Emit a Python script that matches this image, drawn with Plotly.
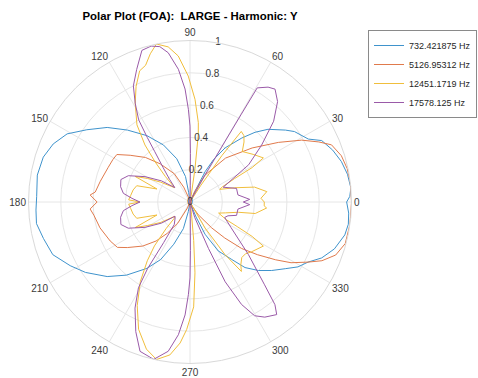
import plotly.graph_objects as go

# ---------------- data ----------------
series_names = ["732.421875 Hz", "5126.95312 Hz", "12451.1719 Hz", "17578.125 Hz"]
series_colors = ["#3f93cc", "#e07a4c", "#f0be3c", "#9a5aa8"]

theta_732 = [0, 2, 5, 10, 15, 20, 25, 28, 34, 37,
             43, 47, 51, 57, 61, 63.5, 65, 68, 80, 95,
             98, 100, 107, 115, 123, 131, 138, 145, 151, 157,
             163, 170, 178, 183, 188, 194, 201, 208, 214, 222,
             229, 237, 243, 249, 256, 260, 263, 275, 289, 292,
             295, 300, 306, 310, 315, 320, 325, 329, 333, 337,
             342, 348, 352, 356, 360]
r_732 = [0.97, 0.99, 1.0, 0.99, 0.97, 0.94, 0.90, 0.83, 0.78, 0.74,
         0.66, 0.59, 0.51, 0.40, 0.30, 0.21, 0.08, 0.01, 0.0, 0.0,
         0.06, 0.16, 0.28, 0.39, 0.49, 0.59, 0.69, 0.78, 0.87, 0.92,
         0.95, 0.96, 0.95, 0.955, 0.96, 0.935, 0.91, 0.84, 0.78, 0.69,
         0.60, 0.49, 0.40, 0.28, 0.17, 0.06, 0.01, 0.0, 0.02, 0.10,
         0.22, 0.35, 0.44, 0.53, 0.60, 0.66, 0.72, 0.78, 0.82, 0.886,
         0.94, 0.98, 0.99, 0.985, 0.97]

theta_5127 = [0, 7, 12, 17, 22, 25, 29, 34, 41, 51,
              61, 66, 70, 100, 108, 113, 119, 128, 135, 142,
              147, 151, 157, 167, 174, 176, 180, 184, 188, 196,
              206, 212, 216, 223, 229, 234, 240, 247, 252, 290,
              297, 303, 310, 314, 318, 322, 326, 329, 333, 336,
              340, 345, 352, 360]
r_5127 = [1.0, 1.0, 0.995, 0.98, 0.945, 0.88, 0.79, 0.66, 0.51, 0.35,
          0.19, 0.07, 0.0, 0.0, 0.03, 0.10, 0.20, 0.30, 0.39, 0.47,
          0.54, 0.545, 0.55, 0.57, 0.59, 0.62, 0.575, 0.62, 0.60, 0.58,
          0.55, 0.53, 0.48, 0.40, 0.32, 0.24, 0.15, 0.04, 0.0, 0.0,
          0.03, 0.094, 0.21, 0.31, 0.43, 0.53, 0.64, 0.73, 0.82, 0.894,
          0.96, 0.995, 1.0, 1.0]

theta_12451 = [0, 3, 7.7, 13, 17.7, 23, 25, 27.7, 29, 31,
               37, 44, 48, 51, 54, 55.5, 57, 60, 78, 80,
               81.5, 83, 84, 87.2, 90.8, 94.6, 98, 102, 105, 108,
               111, 115, 119, 124.5, 128.3, 131, 134, 137, 140, 146,
               151, 155, 158.5, 163, 168, 174, 178, 180, 182, 186,
               192, 197, 201.5, 205, 209, 215, 223, 226, 228, 231,
               234, 238, 243, 248, 253.5, 258, 262.5, 266, 268.5, 272,
               274, 275.5, 277, 280, 298, 300, 303.6, 306.5, 309, 313,
               317, 321, 329, 331, 332.5, 334, 338.8, 343, 348, 350,
               355.5, 357, 360]
r_12451 = [0.46, 0.44, 0.48, 0.41, 0.29, 0.20, 0.22, 0.31, 0.44, 0.53,
           0.49, 0.45, 0.50, 0.53, 0.54, 0.35, 0.12, 0.0, 0.0, 0.05,
           0.21, 0.42, 0.494, 0.636, 0.78, 0.907, 0.97, 1.0, 0.95, 0.89,
           0.87, 0.79, 0.70, 0.58, 0.45, 0.33, 0.22, 0.13, 0.15, 0.22,
           0.30, 0.375, 0.22, 0.345, 0.36, 0.37, 0.38, 0.31, 0.38, 0.37,
           0.36, 0.345, 0.22, 0.375, 0.30, 0.22, 0.13, 0.14, 0.22, 0.35,
           0.45, 0.58, 0.72, 0.85, 0.95, 0.997, 0.955, 0.875, 0.79, 0.65,
           0.44, 0.24, 0.08, 0.0, 0.0, 0.186, 0.39, 0.535, 0.50, 0.47,
           0.47, 0.49, 0.53, 0.44, 0.33, 0.25, 0.19, 0.23, 0.306, 0.41,
           0.476, 0.46, 0.46]

theta_17578 = [0, 2.5, 8.4, 16.3, 24, 32.4, 38.5, 44, 48.9, 53,
               55.8, 59.5, 59.7, 60, 61, 62.5, 66, 88, 89, 89.5,
               90, 91, 92.5, 95, 98.3, 101, 104, 107.6, 111.9, 116,
               119, 122, 123.5, 125, 128, 132, 136.5, 143.5, 150.6, 156.9,
               162, 167.6, 172.6, 176.4, 180, 183.6, 187.4, 192.4, 198, 203,
               209.4, 216.5, 223.5, 227, 235, 237, 237.5, 239, 242.6, 247.3,
               251.5, 257, 261.7, 265, 267.5, 269, 270, 270.5, 271, 273,
               287, 291.7, 293.8, 296.7, 299.6, 303, 307.6, 309.6, 312, 318,
               328, 336, 340, 344, 351.6, 357.5, 360]
r_17578 = [0.33, 0.37, 0.30, 0.30, 0.225, 0.43, 0.567, 0.72, 0.825, 0.875,
           0.86, 0.82, 0.63, 0.43, 0.19, 0.03, 0.0, 0.0, 0.1, 0.3,
           0.47, 0.574, 0.70, 0.825, 0.934, 0.98, 0.995, 0.985, 0.885, 0.80,
           0.70, 0.60, 0.48, 0.38, 0.27, 0.19, 0.13, 0.22, 0.32, 0.415,
           0.45, 0.44, 0.416, 0.36, 0.31, 0.36, 0.416, 0.44, 0.45, 0.415,
           0.32, 0.22, 0.128, 0.135, 0.17, 0.30, 0.49, 0.62, 0.74, 0.87,
           0.975, 1.0, 0.934, 0.825, 0.70, 0.574, 0.47, 0.3, 0.1, 0.0,
           0.10, 0.31, 0.54, 0.71, 0.81, 0.85, 0.88, 0.825, 0.69, 0.487,
           0.30, 0.235, 0.25, 0.30, 0.30, 0.37, 0.33]

angle_ticks = [0, 30, 60, 90, 120, 150, 180, 210, 240, 270, 300, 330]
angle_labels = [str(a) for a in angle_ticks]
radial_ticks = [0, 0.2, 0.4, 0.6, 0.8, 1.0]
radial_labels = ["0", "0.2", "0.4", "0.6", "0.8", "1"]
radial_label_angle = 80

title_text = "Polar Plot (FOA):  LARGE - Harmonic: Y"

# ---------------- figure ----------------
FONT = "Liberation Sans, Arial, Helvetica, sans-serif"
W, H = 478, 378
cx, cy, R = 190.0, 202.0, 161.5   # centre / radius of the polar disc in pixels

all_theta = [theta_732, theta_5127, theta_12451, theta_17578]
all_r = [r_732, r_5127, r_12451, r_17578]

fig = go.Figure()
for name, col, th, rr in zip(series_names, series_colors, all_theta, all_r):
    fig.add_trace(go.Scatterpolar(
        r=rr, theta=th, mode="lines", name=name,
        line=dict(color=col, width=1),
        hoverinfo="skip",
    ))

# radial tick labels drawn along the 80 degree direction (as in the original)
fig.add_trace(go.Scatterpolar(
    r=radial_ticks, theta=[radial_label_angle] * len(radial_ticks),
    mode="text", text=radial_labels, textposition="middle center",
    textfont=dict(family=FONT, size=10, color="#3a3a3a"),
    showlegend=False, hoverinfo="skip",
))

grid_col = "#e6e6e6"
fig.update_layout(
    width=W, height=H,
    margin=dict(l=0, r=0, t=0, b=0, autoexpand=False),
    paper_bgcolor="white",
    font=dict(family=FONT, size=10, color="#3a3a3a"),
    title=dict(
        text="<b>" + title_text.replace("  ", " &nbsp;") + "</b>",
        x=cx / W, xanchor="center", xref="paper",
        y=1 - 16 / H, yanchor="middle", yref="paper",
        font=dict(family=FONT, size=11.4, color="#000000"),
    ),
    polar=dict(
        domain=dict(x=[(cx - R) / W, (cx + R) / W],
                    y=[(H - cy - R) / H, (H - cy + R) / H]),
        bgcolor="white",
        angularaxis=dict(
            rotation=0, direction="counterclockwise",
            tickmode="array", tickvals=angle_ticks, ticktext=angle_labels,
            ticks="", showline=True, linecolor="#d9d9d9", linewidth=1,
            showgrid=True, gridcolor=grid_col, gridwidth=1,
            tickfont=dict(family=FONT, size=10, color="#3a3a3a"),
        ),
        radialaxis=dict(
            range=[0, 1], tickmode="array", tickvals=radial_ticks[1:],
            showticklabels=False, ticks="", showline=False,
            showgrid=True, gridcolor=grid_col, gridwidth=1,
            angle=radial_label_angle,
        ),
    ),
    legend=dict(
        x=1 - 1 / W, y=1 - 30 / H, xanchor="right", yanchor="top",
        bgcolor="white", bordercolor="#8a8a8a", borderwidth=1,
        font=dict(family=FONT, size=9, color="#262626"),
        tracegroupgap=0, itemwidth=30,
    ),
    showlegend=True,
)

fig.write_html("out.html")
